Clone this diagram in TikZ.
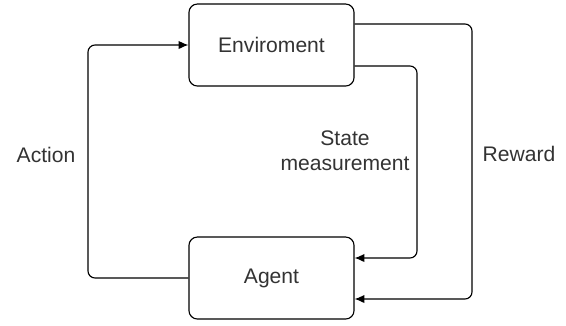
\documentclass[tikz,border=0pt]{standalone}
\usepackage{fontspec}
\setmainfont{Liberation Sans}
\usetikzlibrary{arrows.meta,calc}
\begin{document}
\begin{tikzpicture}[x=0.025cm,y=-0.025cm,
    every node/.style={font=\fontsize{15}{17.5}\selectfont,text=black!80},
    block/.style={draw,thick,rounded corners=6pt,minimum width=4.125cm,minimum height=2.05cm,align=center},
    link/.style={thick,rounded corners=5pt,-{Latex[length=7pt,width=6pt]}}]
  \useasboundingbox (0,0) rectangle (566,325);
  \node[block] (env) at (271.5,45) {Enviroment};
  \node[block] (agent) at (271.5,278) {Agent};
  \coordinate (actL) at (88,160);
  \coordinate (stateR) at (417,160);
  \coordinate (rewR) at (472,160);
  \draw[link] (agent.west) -| (actL) |- (env.west);
  \draw[link] ($(env.east)+(0,21)$) -| (stateR) |- ($(agent.east)+(0,-20)$);
  \draw[link] ($(env.east)+(0,-21)$) -| (rewR) |- ($(agent.east)+(0,21)$);
  \node (action) at (46,155) {Action};
  \node[align=center] (state) at (345,151) {State\\measurement};
  \node (reward) at (519,154) {Reward};
\end{tikzpicture}
\end{document}
